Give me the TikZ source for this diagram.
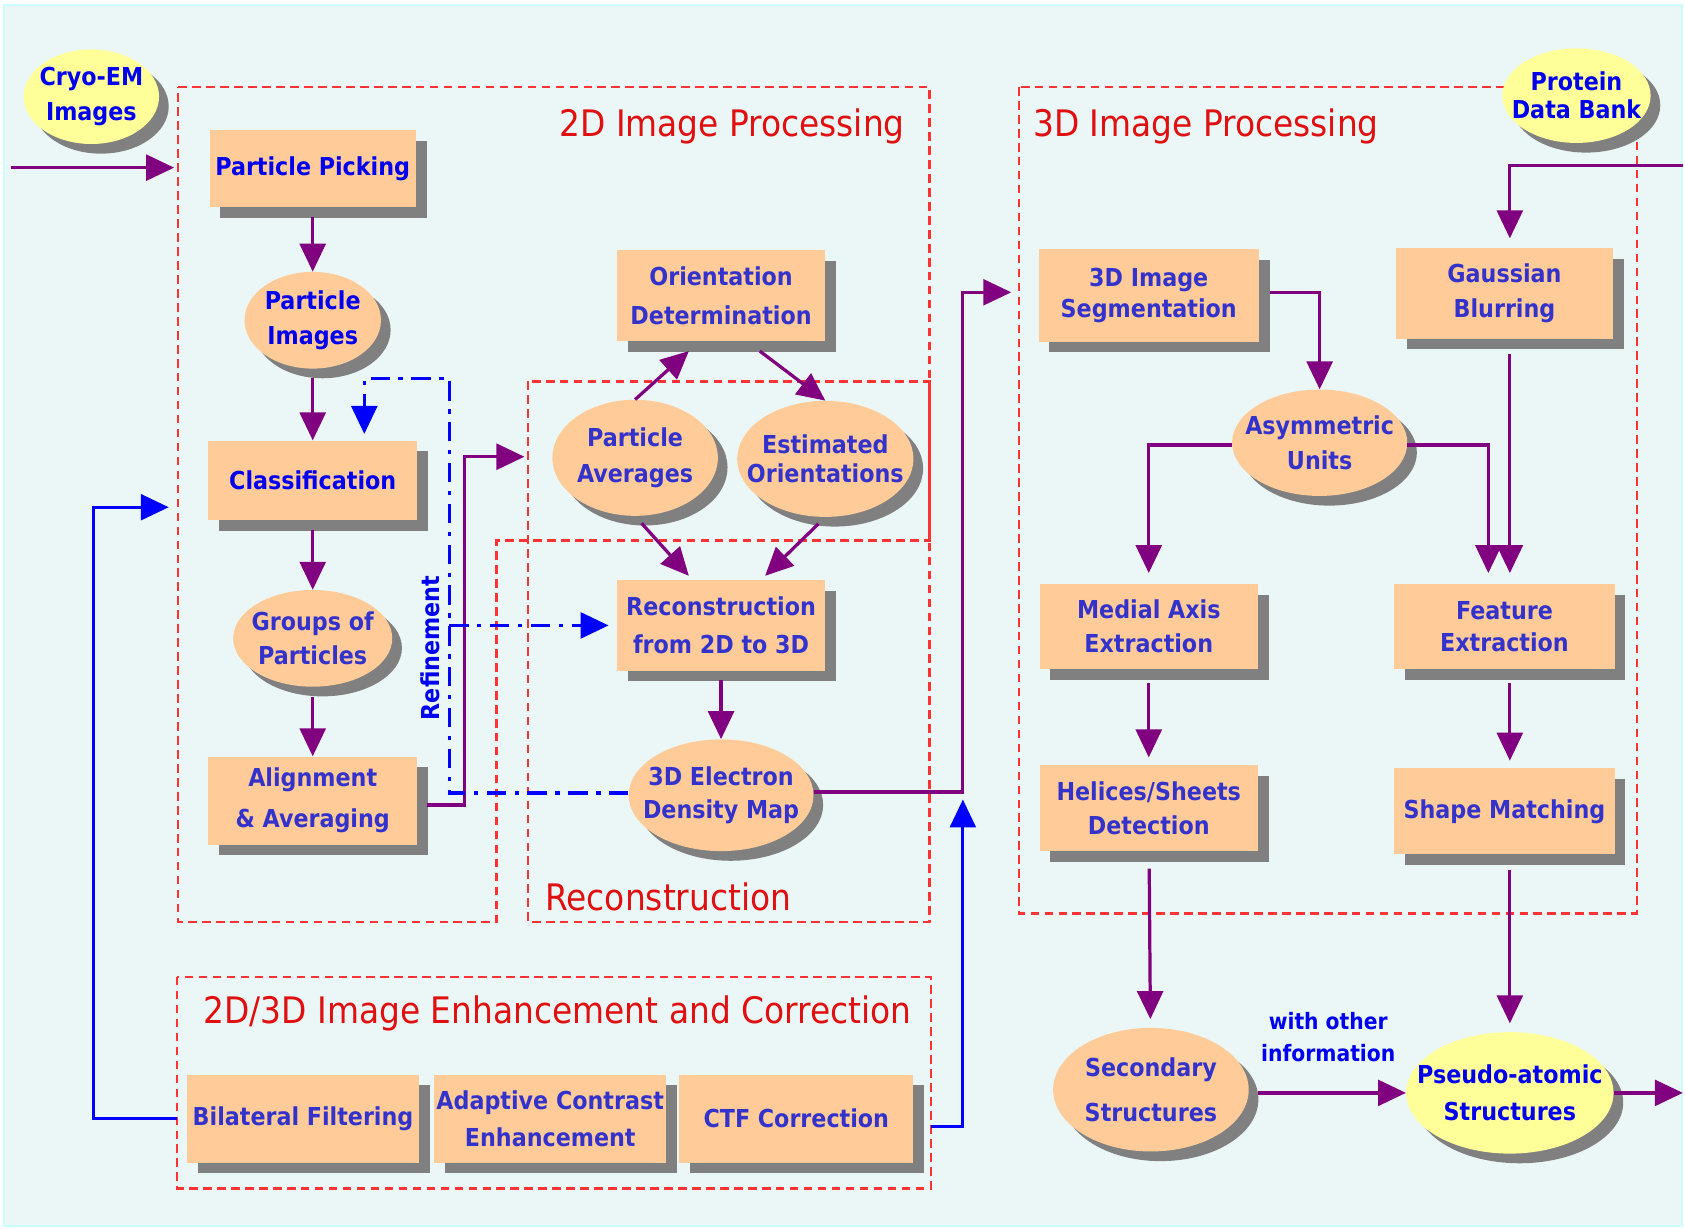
\documentclass[tikz,border=0pt]{standalone}
\usepackage{fontspec}
\setmainfont{DejaVu Sans Condensed}
\usetikzlibrary{arrows.meta,shapes.geometric,shadows,positioning}

\definecolor{peach}{HTML}{FFCC99}
\definecolor{paleyellow}{HTML}{FFFF99}
\definecolor{flowpurple}{HTML}{800080}
\definecolor{textblue}{HTML}{0000EE}
\definecolor{textindigo}{HTML}{3333CC}
\definecolor{framered}{HTML}{FF3333}
\definecolor{titlered}{HTML}{E01010}
\definecolor{shadowgray}{HTML}{808080}
\definecolor{bgcyan}{HTML}{EBF7F7}
\definecolor{bgborder}{HTML}{CCFFFF}

\begin{document}
\begin{tikzpicture}[
    x=1pt, y=-1pt,
    >={Triangle[length=26pt,width=24pt]},
    font=\fontsize{23}{32}\selectfont\bfseries,
    stepbox/.style={
        rectangle,
        fill=peach,
        text=textindigo,
        inner sep=0pt,
        align=center,
        drop shadow={shadow xshift=10pt,shadow yshift=-10pt,fill=shadowgray,opacity=1}
    },
    blob/.style={
        ellipse,
        fill=peach,
        text=textindigo,
        inner xsep=-25pt,
        inner ysep=0pt,
        align=center,
        drop shadow={shadow xshift=9pt,shadow yshift=-9pt,fill=shadowgray,opacity=1}
    },
    source/.style={blob, fill=paleyellow, text=textblue},
    frame/.style={draw=framered, line width=2pt, dash pattern=on 8pt off 5pt},
    title/.style={text=titlered, font=\fontsize{34}{38}\selectfont},
    flow/.style={draw=flowpurple, line width=3pt, ->},
    feed/.style={draw=blue, line width=3pt, ->},
    refine/.style={draw=blue, line width=3pt, dash pattern=on 18pt off 8pt on 4pt off 8pt, ->}
  ]
  % background and page size
  \fill[white] (0,0) rectangle (1568,1143);
  \draw[bgborder, fill=bgcyan, line width=2pt] (4,5) rectangle (1565,1141);
  \useasboundingbox (0,0) rectangle (1568,1143);

  % dashed frames
  \draw[frame] (166,81) -- (865,81) -- (865,503) -- (462,503) -- (462,858) -- (166,858) -- cycle;
  \draw[frame] (491,355) rectangle (865,858);
  \draw[framered, line width=2pt] (865,355) -- (865,503);
  \draw[frame] (948,81) rectangle (1523,850);
  \draw[frame] (165,909) rectangle (866,1106);

  \node[title, anchor=west] (t2d) at (517,118) {2D Image Processing};
  \node[title, anchor=west] (t3d) at (958,118) {3D Image Processing};
  \node[title, anchor=west] (trec) at (504,835) {Reconstruction};
  \node[title, anchor=west] (tenh) at (186,943) {2D/3D Image Enhancement and Correction};

  % 2D column
  \node[source, minimum width=126pt, minimum height=88pt] (cryo) at (85,90) {Cryo-EM\\[1pt]Images};
  \node[stepbox, text=textblue, minimum width=192pt, minimum height=72pt] (picking) at (291,157) {Particle Picking};
  \node[blob, text=textblue, minimum width=127pt, minimum height=90pt] (pimages) at (291,298) {Particle\\Images};
  \node[stepbox, text=textblue, minimum width=194pt, minimum height=74pt] (classif) at (291,447) {Classification};
  \node[blob, minimum width=148pt, minimum height=90pt] (groups) at (291,594) {Groups of\\Particles};
  \node[stepbox, minimum width=194pt, minimum height=82pt] (align) at (291,745) {Alignment\\[6pt]\& Averaging};

  % reconstruction
  \node[stepbox, minimum width=193pt, minimum height=85pt] (orient) at (671,275) {Orientation\\[4pt]Determination};
  \node[blob, minimum width=154pt, minimum height=108pt] (paverages) at (591,426) {Particle\\[1pt]Averages};
  \node[blob, minimum width=164pt, minimum height=108pt] (estorient) at (768,427) {Estimated\\[-5pt]Orientations};
  \node[stepbox, minimum width=193pt, minimum height=84pt] (recon) at (671,582) {Reconstruction\\[4pt]from 2D to 3D};
  \node[blob, minimum width=172pt, minimum height=104pt] (density) at (671,740) {3D Electron\\[-2pt]Density Map};

  % 3D processing
  \node[stepbox, minimum width=205pt, minimum height=86pt] (seg) at (1069,275) {3D Image\\[-3pt]Segmentation};
  \node[stepbox, minimum width=202pt, minimum height=84pt] (gauss) at (1400,273) {Gaussian\\Blurring};
  \node[source, minimum width=138pt, minimum height=88pt] (pdb) at (1467,89) {Protein\\[-6pt]Data Bank};
  \node[blob, minimum width=163pt, minimum height=99pt] (asym) at (1228,412) {Asymmetric\\[1pt]Units};
  \node[stepbox, minimum width=203pt, minimum height=79pt] (medial) at (1069,583) {Medial Axis\\Extraction};
  \node[stepbox, minimum width=205pt, minimum height=79pt] (feature) at (1400,583) {Feature\\[-2pt]Extraction};
  \node[stepbox, minimum width=203pt, minimum height=80pt] (helices) at (1069,752) {Helices/Sheets\\Detection};
  \node[stepbox, minimum width=205pt, minimum height=80pt] (shape) at (1400,755) {Shape Matching};
  \node[blob, minimum width=182pt, minimum height=115pt] (secondary) at (1071,1014) {Secondary\\[10pt]Structures};
  \node[source, minimum width=193pt, minimum height=113pt] (pseudo) at (1405,1017) {Pseudo-atomic\\[3pt]Structures};
  \node[text=textblue, font=\fontsize{21}{30}\selectfont\bfseries, align=center] (withinfo) at (1236,965) {with other\\information};

  % enhancement
  \node[stepbox, minimum width=216pt, minimum height=82pt] (bilateral) at (282,1041) {Bilateral Filtering};
  \node[stepbox, minimum width=216pt, minimum height=82pt] (adaptive) at (512,1041) {Adaptive Contrast\\[2pt]Enhancement};
  \node[stepbox, minimum width=218pt, minimum height=82pt] (ctf) at (741,1041) {CTF Correction};

  \node[text=textblue, rotate=90] (refl) at (400,603) {Refinement};

  % connectors
  \coordinate (entry) at (10,156);
  \coordinate (in2d) at (162,156);
  \draw[flow] (entry) -- (in2d);
  \draw[flow, shorten <=9pt] (picking) -- (pimages);
  \draw[flow, shorten <=9pt] (pimages) -- (classif);
  \draw[flow, shorten <=9pt] (classif) -- (groups);
  \draw[flow, shorten <=9pt] (groups) -- (align);

  \coordinate (jogA) at (432,425);
  \coordinate (reconin) at (488,425);
  \draw[flow, shorten <=9pt] ([yshift=-4pt]align.east) -| (jogA) -- (reconin);

  \draw[flow] (paverages.north) -- ([xshift=-30pt,yshift=-9pt]orient.south);
  \draw[flow] ([xshift=36pt,yshift=-9pt]orient.south) -- (estorient.north);
  \draw[flow, shorten <=9pt] (paverages.south) -- ([xshift=-30pt,yshift=4pt]recon.north);
  \draw[flow, shorten <=9pt] (estorient.south) -- ([xshift=41pt,yshift=4pt]recon.north);
  \draw[flow, shorten <=9pt] (recon) -- (density);

  \coordinate (jogB) at (896,272);
  \coordinate (segin) at (941,272);
  \draw[flow] ([yshift=3pt]density.east) -| (jogB) -- (segin);

  \coordinate (upin) at (896,744);
  \draw[feed, shorten <=16pt] ([yshift=-7pt]ctf.east) -| (upin);
  \coordinate (jogC) at (87,472);
  \coordinate (classin) at (157,472);
  \draw[feed, shorten <=9pt] (bilateral.west) -| (jogC) -- (classin);

  \coordinate (rfA) at (418,352);
  \draw[refine] ([yshift=2pt]density.west) -| (rfA) -| ([xshift=48pt,yshift=6pt]classif.north);
  \draw[refine] (rfA |- recon.west) -- ([xshift=-8pt]recon.west);

  \draw[flow, shorten <=10pt] ([yshift=3pt]seg.east) -| (asym.north);
  \draw[flow, shorten >=10pt] ([yshift=-2pt]asym.west) -| (medial.north);
  \draw[flow, shorten >=10pt] ([yshift=-2pt]asym.east) -| ([xshift=-15pt]feature.north);
  \draw[flow, shorten <=14pt, shorten >=10pt] ([xshift=5pt]gauss.south) -- ([xshift=5pt]feature.north);
  \coordinate (pdbin) at (1566,154);
  \draw[flow, shorten >=9pt] (pdbin) -| ([xshift=5pt]gauss.north);

  \draw[flow, shorten <=13pt, shorten >=7pt] (medial) -- (helices);
  \draw[flow, shorten <=13pt, shorten >=7pt] ([xshift=5pt]feature.south) -- ([xshift=5pt]shape.north);
  \draw[flow, shorten <=16pt, shorten >=8pt] (helices) -- (secondary);
  \draw[flow, shorten <=14pt, shorten >=8pt] ([xshift=5pt]shape.south) -- (pseudo.north);
  \draw[flow, shorten <=8pt] ([yshift=-3pt]secondary.east) -- (pseudo.west);
  \coordinate (outR) at (1566,1017);
  \draw[flow] (pseudo.east) -- (outR);
\end{tikzpicture}
\end{document}
